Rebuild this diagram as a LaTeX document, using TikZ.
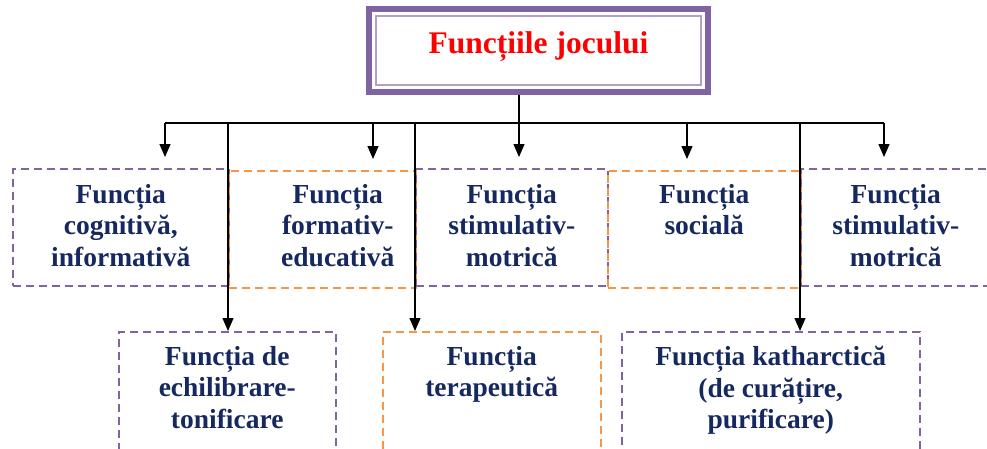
\documentclass[tikz,border=0pt]{standalone}
\usepackage{fontspec}
\setmainfont{Liberation Serif}
\usetikzlibrary{arrows.meta}
\definecolor{boxpurple}{RGB}{128,100,162}
\definecolor{lightpurple}{RGB}{178,161,199}
\definecolor{boxorange}{RGB}{247,150,70}
\definecolor{textnavy}{RGB}{22,40,96}
\newcommand{\labelfont}{\fontsize{27.5}{31.5}\selectfont\bfseries}
\newcommand{\titlefont}{\fontsize{31.5}{36}\selectfont\bfseries}
\begin{document}
\begin{tikzpicture}[x=1pt, y=-1pt,
  fbox/.style={dashed, dash pattern=on 8pt off 5pt, line width=1.5pt, minimum height=118pt, inner sep=0, anchor=north west},
  purplebox/.style={fbox, draw=boxpurple},
  orangebox/.style={fbox, draw=boxorange},
  ftext/.style={anchor=north, align=center, inner sep=0, text=textnavy, font=\labelfont},
  wire/.style={line width=1.3pt},
  link/.style={wire, -{Triangle[length=13pt, width=11pt]}}]
\useasboundingbox (0,0) rectangle (987,448);
% title
\node[draw=boxpurple, line width=6pt, minimum width=339pt, minimum height=83pt, inner sep=0,
      text=red, font=\titlefont, text height=20pt, text depth=15pt] (title) at (538.5,50.5) {Funcțiile jocului};
\draw[lightpurple, line width=2.3pt] ([shift={(10,10)}]title.north west) rectangle ([shift={(-10,-10)}]title.south east);
% first row
\node[purplebox, minimum width=216pt, minimum height=117pt] (b1) at (12,168) {};
\node[orangebox, minimum width=187pt, minimum height=117pt] (b2) at (228,170) {};
\node[purplebox, minimum width=192pt, minimum height=117pt] (b3) at (415,168) {};
\node[orangebox, minimum width=193pt, minimum height=117pt] (b4) at (607,170) {};
\node[purplebox, minimum width=190pt, minimum height=117pt] (b5) at (800,168) {};
% second row
\node[purplebox, minimum width=217pt] (b6) at (118,331) {};
\node[orangebox, minimum width=218pt] (b7) at (382,331) {};
\node[purplebox, minimum width=298pt] (b8) at (621,331) {};
% labels
\node[ftext] (t1) at ([yshift=-16pt]b1.north) {Funcția\\cognitivă,\\informativă};
\node[ftext] (t2) at ([xshift=15.5pt, yshift=-14pt]b2.north) {Funcția\\formativ-\\educativă};
\node[ftext] (t3) at ([yshift=-16pt]b3.north) {Funcția\\stimulativ-\\motrică};
\node[ftext] (t4) at ([yshift=-14pt]b4.north) {Funcția\\socială};
\node[ftext] (t5) at ([yshift=-16pt]b5.north) {Funcția\\stimulativ-\\motrică};
\node[ftext] (t6) at ([yshift=-15pt]b6.north) {Funcția de\\echilibrare-\\tonificare};
\node[ftext] (t7) at ([yshift=-15pt]b7.north) {Funcția\\terapeutică};
\node[ftext] (t8) at ([yshift=-15pt]b8.north) {Funcția katharctică\\(de curățire,\\purificare)};
% connectors
\coordinate (bus) at (519,123);
\coordinate (d1) at (165,123);
\coordinate (d2) at (373,123);
\coordinate (d3) at (519,123);
\coordinate (d4) at (687,123);
\coordinate (d5) at (884,123);
\coordinate (d6) at (228,123);
\coordinate (d7) at (415,123);
\coordinate (d8) at (800,123);
\draw[wire] (bus |- title.south) -- (bus);
\draw[wire] (d1) -- (d5);
\foreach \d/\b in {d1/b1, d2/b2, d3/b3, d4/b4, d5/b5}
  \draw[link, shorten >=11pt] (\d) -- (\d |- \b.north);
\foreach \d/\b in {d6/b6, d7/b7, d8/b8}
  \draw[link] (\d) -- (\d |- \b.north);
\end{tikzpicture}
\end{document}
